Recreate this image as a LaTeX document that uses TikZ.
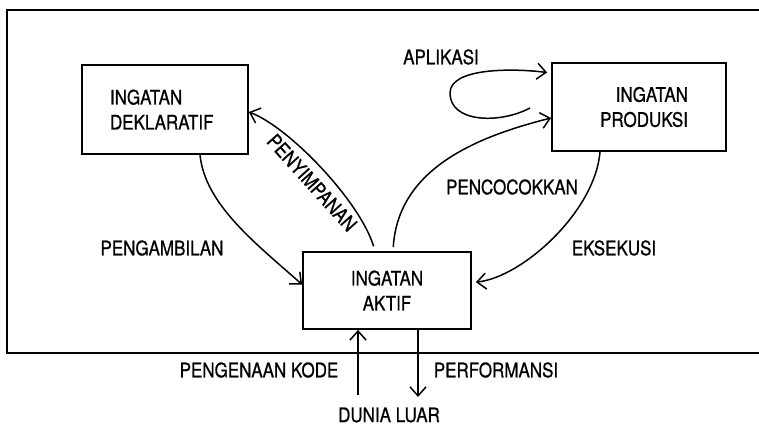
\documentclass[tikz,border=0pt]{standalone}
\usepackage{fontspec}
\setmainfont{TeX Gyre Heros}[FakeStretch=0.85,FakeBold=0.8]
\usetikzlibrary{arrows.meta}

\begin{document}
\begin{tikzpicture}[x=1pt,y=-1pt,>={Straight Barb[length=9pt,width=16pt]},
  font=\fontsize{20}{25}\selectfont,
  memori/.style={draw,line width=1.8pt,inner sep=0pt},
  conn/.style={->,line width=1.5pt}]
\useasboundingbox (0,0) rectangle (759,428);

        % draw the frame
        \draw[line width=1.8pt] (759,10) -- (7,10) -- (7,353) -- (759,353);

        % draw the three memories
        \node[memori,minimum width=166pt,minimum height=89pt,text width=110pt,align=left]
            (dekl) at (165,109.5) {INGATAN\\DEKLARATIF};
        \node[memori,minimum width=174pt,minimum height=88pt,text width=98pt,align=right]
            (prod) at (639,107) {INGATAN\\PRODUKSI};
        \node[memori,minimum width=168pt,minimum height=77pt,align=center]
            (aktif) at (387,290.5) {INGATAN\\AKTIF};

        % free ends
        \coordinate (loopstart) at (530,108);
        \coordinate (loopleft) at (450,93);
        \coordinate (kodeend) at (358,395);
        \coordinate (perfend) at (418,397);

        % draw the arrows between the memories
        \draw[conn] ([xshift=35pt]dekl.south) .. controls +(5,50) and +(-45,-40) .. ([yshift=6pt]aktif.west);
        \draw[conn,shorten <=5pt] ([xshift=-12pt]aktif.north) .. controls +(-15,-50) and +(40,15) .. ([yshift=-2.5pt]dekl.east)
            node[pos=0.48,sloped,below=5pt] (simpan) {PENYIMPANAN};
        \draw[conn,shorten <=4pt] ([xshift=6pt]aktif.north) .. controls +(5,-80) and +(-80,20) .. ([yshift=-11pt]prod.west);
        \draw[conn,shorten >=4pt] ([xshift=-39pt]prod.south) .. controls +(-5,60) and +(50,-5) .. ([yshift=8pt]aktif.east);
        \draw[conn,shorten >=4pt] (loopstart) .. controls +(-30,16) and +(0,30) .. (loopleft)
            .. controls +(0,-25) and +(-40,-5) .. ([yshift=34pt]prod.west);

        % the outside world
        \draw[conn] (kodeend) -- ([xshift=-29pt]aktif.south);
        \draw[conn] ([xshift=31pt]aktif.south) -- (perfend);

        % the labels
        \node (ambil) at (162,248) {PENGAMBILAN};
        \node (cocok) at (512,187) {PENCOCOKKAN};
        \node (eksekusi) at (614,248) {EKSEKUSI};
        \node (aplikasi) at (441,57) {APLIKASI};
        \node (kode) at (259,370) {PENGENAAN KODE};
        \node (perf) at (496,370) {PERFORMANSI};
        \node (dunia) at (389,415) {DUNIA LUAR};
\end{tikzpicture}
\end{document}
